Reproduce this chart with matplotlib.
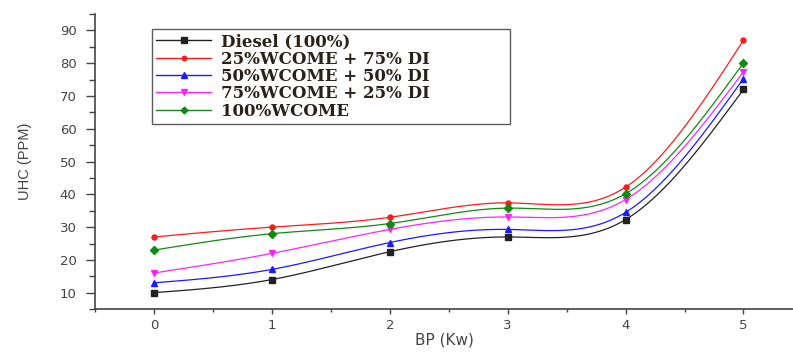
import matplotlib
matplotlib.use("Agg")
import matplotlib.pyplot as plt
from matplotlib.ticker import MultipleLocator
import numpy as np

BP = [0, 1, 2, 3, 4, 5]
DIESEL = [10, 14, 22.5, 27, 32.3, 72]
W25 = [27, 30, 33, 37.4, 42.2, 87]
W50 = [13, 17.1, 25.3, 29.3, 34.5, 75.3]
W75 = [16, 22, 29.3, 33.1, 38.4, 77.4]
W100 = [23, 28, 31.1, 35.8, 40.2, 80.1]

SERIES = [
    ("Diesel (100%)", DIESEL, "#222222", "s", 4.2),
    ("25%WCOME + 75% DI", W25, "#ff1a1a", "o", 3.6),
    ("50%WCOME + 50% DI", W50, "#1a1aff", "^", 4.8),
    ("75%WCOME + 25% DI", W75, "#ff22ff", "v", 4.8),
    ("100%WCOME", W100, "#128a12", "D", 3.8),
]
AX_GREY = "#444444"


def natural_spline(x, y, n=300):
    # plain natural cubic spline, only used to draw the smooth line between points
    x = np.asarray(x, float)
    y = np.asarray(y, float)
    k = len(x)
    h = np.diff(x)
    a = np.zeros((k, k))
    b = np.zeros(k)
    a[0, 0] = a[-1, -1] = 1.0
    for i in range(1, k - 1):
        a[i, i - 1] = h[i - 1]
        a[i, i] = 2 * (h[i - 1] + h[i])
        a[i, i + 1] = h[i]
        b[i] = 3 * ((y[i + 1] - y[i]) / h[i] - (y[i] - y[i - 1]) / h[i - 1])
    c = np.linalg.solve(a, b)
    xs = np.linspace(x[0], x[-1], n)
    idx = np.clip(np.searchsorted(x, xs) - 1, 0, k - 2)
    dx = xs - x[idx]
    bb = (y[idx + 1] - y[idx]) / h[idx] - h[idx] * (2 * c[idx] + c[idx + 1]) / 3
    dd = (c[idx + 1] - c[idx]) / (3 * h[idx])
    ys = y[idx] + bb * dx + c[idx] * dx ** 2 + dd * dx ** 3
    return xs, ys


fig = plt.figure(figsize=(7.93, 3.52), dpi=100)
ax = fig.add_axes([0.12, 0.122, 0.88, 0.838])

handles = []
for label, vals, color, marker, ms in SERIES:
    xs, ys = natural_spline(BP, vals)
    ax.plot(xs, ys, color=color, lw=0.9, zorder=2)
    ax.plot(BP, vals, linestyle="none", marker=marker, color=color, ms=ms, zorder=3)
    h, = ax.plot([], [], color=color, lw=1.0, marker=marker, ms=ms * 0.9, label=label)
    handles.append(h)

ax.set_xlim(-0.5, 5.42)
ax.set_ylim(5, 95)
ax.xaxis.set_major_locator(MultipleLocator(1))
ax.xaxis.set_minor_locator(MultipleLocator(0.5))
ax.yaxis.set_minor_locator(MultipleLocator(5))
ax.set_yticks(range(10, 91, 10))

for s in ("top", "right"):
    ax.spines[s].set_visible(False)
for s in ("left", "bottom"):
    ax.spines[s].set_color(AX_GREY)
    ax.spines[s].set_linewidth(1.2)

ax.tick_params(axis="y", which="major", direction="out", length=6.5, width=1.0, color=AX_GREY,
               labelsize=9.5, labelcolor=AX_GREY, pad=7)
ax.tick_params(axis="y", which="minor", direction="out", length=4.3, width=1.0, color=AX_GREY)
ax.tick_params(axis="x", which="major", direction="out", length=3.8, width=1.0, color=AX_GREY,
               labelsize=9.5, labelcolor=AX_GREY, pad=3)
ax.tick_params(axis="x", which="minor", direction="out", length=2.3, width=1.0, color=AX_GREY)
for t in ax.get_xticklabels() + ax.get_yticklabels():
    t.set_family("DejaVu Sans")

ax.set_xlabel("BP (Kw)", fontsize=11, color=AX_GREY, family="DejaVu Sans", labelpad=1)
ax.set_ylabel("UHC (PPM)", fontsize=10.5, color=AX_GREY, family="Liberation Sans", labelpad=20)

leg = ax.legend(handles=handles, loc="upper left", mode="expand",
                bbox_to_anchor=(0.0817, 0.644, 0.513, 0.305),
                prop={"family": "DejaVu Serif", "size": 12, "weight": "bold"},
                frameon=True, fancybox=False, borderpad=0.25, labelspacing=0.02,
                handlelength=3.3, handletextpad=0.6, borderaxespad=0.0)
leg.get_frame().set_edgecolor("#333333")
leg.get_frame().set_linewidth(1.0)
for t in leg.get_texts():
    t.set_color("#2a2118")

fig.savefig("out.png", dpi=100)
